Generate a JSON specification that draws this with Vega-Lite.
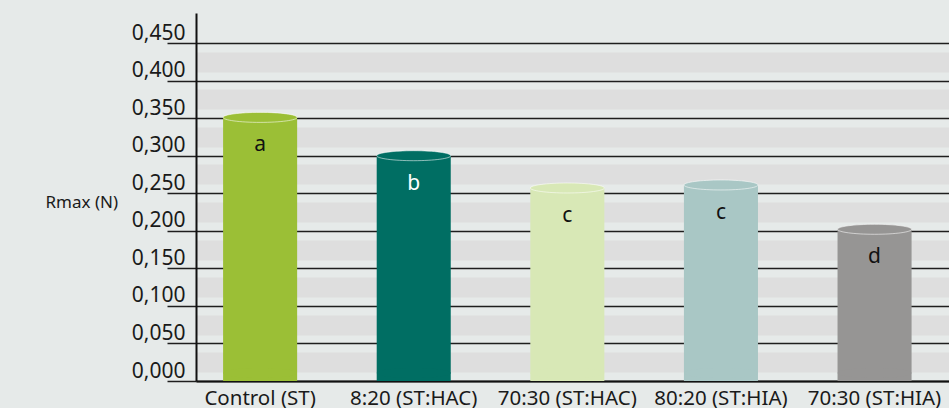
{
  "$schema": "https://vega.github.io/schema/vega-lite/v6.json",
  "autosize": "none",
  "width": 753,
  "height": 368,
  "padding": {"left": 196, "top": 13, "right": 0, "bottom": 27},
  "background": "#e6eae9",
  "config": {"view": {"stroke": null}, "font": "Noto Sans"},
  "data": {
    "values": [
      {"group": "Control (ST)", "value": 0.351, "letter": "a"},
      {"group": "8:20 (ST:HAC)", "value": 0.300, "letter": "b"},
      {"group": "70:30 (ST:HAC)", "value": 0.257, "letter": "c"},
      {"group": "80:20 (ST:HIA)", "value": 0.261, "letter": "c"},
      {"group": "70:30 (ST:HIA)", "value": 0.202, "letter": "d"}
    ]
  },
  "encoding": {
    "x": {
      "field": "group",
      "type": "nominal",
      "sort": null,
      "scale": {"paddingInner": 0.518, "paddingOuter": 0.21, "align": 0.42},
      "axis": {
        "title": null,
        "ticks": false,
        "grid": false,
        "domainColor": "#111111",
        "domainWidth": 2,
        "labelAngle": 0,
        "labelFont": "Noto Sans",
        "labelFontSize": 20.5,
        "labelColor": "#1a1a1a",
        "labelPadding": 7
      }
    },
    "y": {
      "field": "value",
      "type": "quantitative",
      "title": "Rmax (N)",
      "scale": {"domain": [0, 0.49], "nice": false, "zero": true},
      "axis": {
        "values": [0, 0.025, 0.05, 0.075, 0.1, 0.125, 0.15, 0.175, 0.2, 0.225, 0.25, 0.275, 0.3, 0.325, 0.35, 0.375, 0.4, 0.425, 0.45],
        "title": "Rmax (N)",
        "titleAngle": 0,
        "titleAlign": "left",
        "titleBaseline": "middle",
        "titleX": -151,
        "titleY": 189,
        "titleFont": "Noto Sans",
        "titleFontSize": 17,
        "titleFontWeight": "normal",
        "titleColor": "#1a1a1a",
        "labelExpr": "round(datum.value*40)%2==1 ? '' : replace(format(datum.value,'.3f'),'.',',')",
        "labelFont": "Noto Sans",
        "labelFontSize": 21,
        "labelColor": "#1a1a1a",
        "labelPadding": -18,
        "labelAlign": "right",
        "labelBaseline": "alphabetic",
        "labelOffset": -4,
        "labelOverlap": false,
        "labelBound": false,
        "labelFlush": false,
        "grid": true,
        "gridColor": {"condition": {"test": "round(datum.value*40)%2==1", "value": "#dedede"}, "value": "#1e1e1e"},
        "gridWidth": {"condition": {"test": "round(datum.value*40)%2==1", "value": 20}, "value": 1.5},
        "gridOpacity": 1,
        "tickColor": {"condition": {"test": "round(datum.value*40)%2==1", "value": "transparent"}, "value": "#1e1e1e"},
        "tickSize": 29,
        "tickWidth": 1.5,
        "domainColor": "#111111",
        "domainWidth": 2
      }
    },
    "color": {
      "field": "group",
      "type": "nominal",
      "sort": null,
      "scale": {
        "domain": ["Control (ST)", "8:20 (ST:HAC)", "70:30 (ST:HAC)", "80:20 (ST:HIA)", "70:30 (ST:HIA)"],
        "range": ["#9bbf36", "#006e63", "#d8e8b6", "#a9c7c5", "#969594"]
      },
      "legend": null
    }
  },
  "layer": [
    {
      "mark": {"type": "bar", "y2Offset": -8, "opacity": 1}
    },
    {
      "mark": {
        "type": "point",
        "shape": "M -1 0 A 1 0.135 0 1 0 1 0 A 1 0.135 0 1 0 -1 0 Z",
        "size": 5476,
        "filled": true,
        "opacity": 1,
        "strokeWidth": 0,
        "yOffset": -8
      },
      "encoding": {
        "y": {"datum": 0, "type": "quantitative"}
      }
    },
    {
      "mark": {
        "type": "point",
        "shape": "M -1 0 A 1 0.135 0 1 0 1 0 A 1 0.135 0 1 0 -1 0 Z",
        "size": 5476,
        "filled": true,
        "opacity": 1,
        "stroke": "#ffffff",
        "strokeOpacity": 0.55,
        "strokeWidth": 1
      }
    },
    {
      "mark": {
        "type": "text",
        "baseline": "alphabetic",
        "align": "center",
        "dy": 34,
        "font": "Noto Sans",
        "fontSize": 21
      },
      "encoding": {
        "text": {"field": "letter", "type": "nominal"},
        "color": {
          "condition": {"test": "datum.letter == 'b'", "value": "#ffffff"},
          "value": "#111111"
        }
      }
    }
  ]
}
